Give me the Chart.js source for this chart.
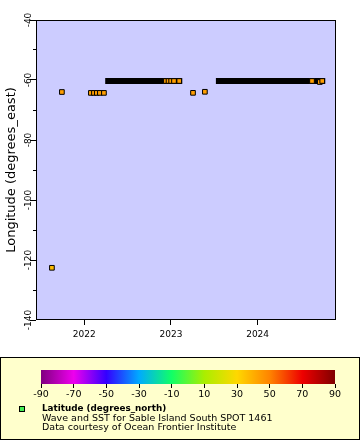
<!DOCTYPE html>
<html>
<head>
<meta charset="utf-8">
<script src="https://cdn.jsdelivr.net/npm/chart.js@4/dist/chart.umd.min.js"></script>
<style>
  html, body { margin:0; padding:0; background:#fff; }
  body { width:360px; height:440px; position:relative; overflow:hidden; font-family:"DejaVu Sans", sans-serif; }
  #main { position:absolute; left:0; top:0; }
  #legend { position:absolute; left:0; top:357px; width:360px; height:83px; box-sizing:border-box; border:1px solid #000; background:#FFFFCC; }
  #cbar { position:absolute; left:0; top:360px; }
  .lg { position:absolute; white-space:nowrap; color:#000; font-family:"DejaVu Sans", sans-serif; }
  #swatch { position:absolute; left:19px; top:406px; width:4px; height:4px; border:1px solid #000; background:#44EE55; }
</style>
</head>
<body>
<canvas id="main" width="360" height="350"></canvas>
<div id="legend"></div>
<canvas id="cbar" width="360" height="45"></canvas>
<div id="swatch"></div>
<div class="lg" style="left:42px; top:403px; font-size:8.8px; font-weight:bold; line-height:10px;">Latitude (degrees_north)</div>
<div class="lg" style="left:42px; top:412.5px; font-size:9.5px; line-height:10px;">Wave and SST for Sable Island South SPOT 1461</div>
<div class="lg" style="left:42px; top:421.5px; font-size:9.5px; line-height:10px;">Data courtesy of Ocean Frontier Institute</div>
<script>
// ---------- data ----------
const X_MIN_DATE = '2021-06-12';
const X_MAX_DATE = '2024-11-26';
const X_TICK_YEARS = [2022, 2023, 2024];
const Y_MIN = -140, Y_MAX = -40;
const Y_MAJOR_STEP = 20, Y_MINOR_STEP = 10;

// isolated / sparse observations
const POINT_DATES = ['2021-08-18','2021-09-29','2022-01-29','2022-02-11','2022-02-23','2022-03-08','2022-03-25',
                     '2022-12-11','2022-12-22','2023-01-02','2023-01-14','2023-02-05','2023-04-04','2023-05-24',
                     '2024-08-17','2024-09-19','2024-09-29'];
const POINT_LON = [-122.6,-64.0,-64.3,-64.3,-64.3,-64.3,-64.3,
                   -60.33,-60.33,-60.33,-60.33,-60.33,-64.28,-63.93,
                   -60.33,-60.67,-60.33];
const POINT_LAT = [37.0,43.9,43.9,43.9,43.9,43.9,43.9,
                   43.9,43.9,43.9,43.9,43.9,43.9,43.9,
                   43.9,43.9,43.9];

// dense continuous records (markers merge into a solid band)
const BAND_START = ['2022-04-12','2023-07-22'];
const BAND_END   = ['2023-02-05','2024-09-29'];
const BAND_LON   = [-60.33, -60.33];

// colour bar (latitude palette)
const CBAR_MIN = -90, CBAR_MAX = 90, CBAR_STEP = 20;
const CBAR_VALUES = [-90, -70, -50, -30, -10, 10, 30, 50, 70, 90];
const CBAR_COLORS = ['#800080','#EE00EE','#3300FF','#00AAFF','#11FF66','#AAEE00','#FFD800','#FF8400','#EE0000','#800000'];

// ---------- helpers ----------
const FONT = '"DejaVu Sans", sans-serif';
const t = s => Date.parse(s);
function hex(c){ return [parseInt(c.slice(1,3),16), parseInt(c.slice(3,5),16), parseInt(c.slice(5,7),16)]; }
function colorFor(v){
  for (let i = 0; i < CBAR_VALUES.length - 1; i++) {
    if (v <= CBAR_VALUES[i+1]) {
      const f = (v - CBAR_VALUES[i]) / (CBAR_VALUES[i+1] - CBAR_VALUES[i]);
      const a = hex(CBAR_COLORS[i]), b = hex(CBAR_COLORS[i+1]);
      return 'rgb(' + a.map((x, k) => Math.round(x + (b[k] - x) * f)).join(',') + ')';
    }
  }
  return CBAR_COLORS[CBAR_COLORS.length - 1];
}

const frame = {
  id: 'frame',
  beforeDraw(chart) {
    const {ctx, chartArea: a} = chart;
    ctx.save();
    ctx.fillStyle = '#CCCCFF';
    ctx.fillRect(a.left, a.top, a.right - a.left, a.bottom - a.top);
    ctx.restore();
  },
  afterDraw(chart) {
    const {ctx, chartArea: a} = chart;
    ctx.save();
    ctx.strokeStyle = '#000';
    ctx.lineWidth = 1;
    ctx.strokeRect(a.left + 0.5, a.top + 0.5, a.right - a.left - 1, a.bottom - a.top - 1);
    ctx.restore();
  }
};

const bandSets = BAND_START.map((s, i) => ({
  data: [{x: t(s), y: BAND_LON[i]}, {x: t(BAND_END[i]), y: BAND_LON[i]}],
  showLine: true, borderColor: '#000', borderWidth: 6, borderCapStyle: 'square',
  pointRadius: 0, fill: false, order: 2
}));

const pointSet = {
  data: POINT_DATES.map((d, i) => ({x: t(d), y: POINT_LON[i]})),
  pointStyle: 'rect', pointRadius: 3.3,
  pointBackgroundColor: POINT_LAT.map(colorFor),
  pointBorderColor: '#000', pointBorderWidth: 1,
  showLine: false, order: 1
};

new Chart(document.getElementById('main'), {
  type: 'scatter',
  data: { datasets: [pointSet, ...bandSets] },
  options: {
    responsive: false, animation: false, devicePixelRatio: 1,
    layout: { padding: { left: 0, right: 24, top: 20, bottom: 0 } },
    plugins: { legend: { display: false }, tooltip: { enabled: false } },
    scales: {
      x: {
        type: 'linear', min: t(X_MIN_DATE), max: t(X_MAX_DATE),
        afterBuildTicks(s) { s.ticks = X_TICK_YEARS.map(y => ({ value: Date.UTC(y, 0, 1) })); },
        ticks: { autoSkip: false, maxRotation: 0, color: '#000', padding: 4, font: { family: FONT, size: 9 },
                 callback: v => String(new Date(v).getUTCFullYear()) },
        grid: { drawOnChartArea: false, tickLength: 5, color: '#000' },
        border: { display: false },
        afterFit(s) { s.height = 30; }
      },
      y: {
        type: 'linear', position: 'left', min: Y_MIN, max: Y_MAX, weight: 1,
        ticks: { stepSize: Y_MAJOR_STEP, minRotation: 90, maxRotation: 90, crossAlign: 'center', padding: -9,
                 color: '#000', font: { family: FONT, size: 9 } },
        grid: { drawOnChartArea: false, tickLength: 6, color: '#000' },
        border: { display: false },
        title: { display: true, text: 'Longitude (degrees_east)', color: '#000',
                 font: { family: FONT, size: 13 }, padding: { top: 4, bottom: 0 } },
        afterFit(s) { s.width = 36; }
      },
      yMinor: {
        type: 'linear', position: 'left', min: Y_MIN, max: Y_MAX, weight: 0,
        ticks: { stepSize: Y_MINOR_STEP, display: false },
        grid: { drawOnChartArea: false, tickLength: 3, color: '#000' },
        border: { display: false },
        afterFit(s) { s.width = 0; }
      }
    }
  },
  plugins: [frame]
});

const cbarFill = {
  id: 'cbarFill',
  beforeDatasetsDraw(chart) {
    const {ctx, chartArea: a, scales: {x}} = chart;
    const x0 = x.getPixelForValue(CBAR_MIN), x1 = x.getPixelForValue(CBAR_MAX);
    const g = ctx.createLinearGradient(x0, 0, x1, 0);
    CBAR_VALUES.forEach((v, i) => g.addColorStop((v - CBAR_MIN) / (CBAR_MAX - CBAR_MIN), CBAR_COLORS[i]));
    ctx.save();
    ctx.fillStyle = g;
    ctx.fillRect(a.left, a.top, a.right - a.left, a.bottom - a.top);
    ctx.restore();
  }
};

new Chart(document.getElementById('cbar'), {
  type: 'scatter',
  data: { datasets: [] },
  options: {
    responsive: false, animation: false, devicePixelRatio: 1,
    layout: { padding: { left: 41, right: 25, top: 10, bottom: 0 } },
    plugins: { legend: { display: false }, tooltip: { enabled: false } },
    scales: {
      x: {
        type: 'linear', min: CBAR_MIN, max: CBAR_MAX,
        ticks: { stepSize: CBAR_STEP, autoSkip: false, maxRotation: 0, color: '#000', padding: 1,
                 font: { family: FONT, size: 9.5 } },
        grid: { drawOnChartArea: false, tickLength: 4, color: '#000' },
        border: { display: false },
        afterFit(s) { s.height = 21; }
      },
      y: { display: false, min: 0, max: 1 }
    }
  },
  plugins: [cbarFill]
});
</script>
</body>
</html>
